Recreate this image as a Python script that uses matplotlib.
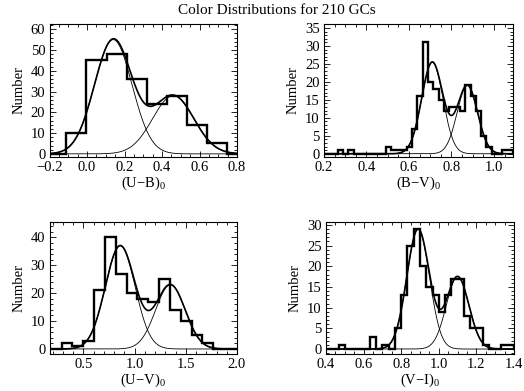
import numpy as np
import matplotlib
matplotlib.use("Agg")
import matplotlib.pyplot as plt
from matplotlib.ticker import MultipleLocator, AutoMinorLocator

plt.rcParams['font.family'] = ['Liberation Serif', 'DejaVu Serif']
plt.rcParams['mathtext.fontset'] = 'custom'
plt.rcParams['mathtext.rm'] = 'Liberation Serif'
plt.rcParams['mathtext.it'] = 'Liberation Serif'

title = "Color Distributions for 210 GCs"

# ---- U-B ----
ub_start, ub_width = -0.11, 0.107
ub_counts = [10, 45, 48, 36, 24, 28, 14, 5]
ub_gauss = [(55, 0.14, 0.10), (28, 0.46, 0.11)]

# ---- B-V ----
bv_start, bv_width = 0.265, 0.025
bv_counts = [1, 0, 1, 0, 0, 0, 0, 0, 0, 2, 1, 1, 1, 2, 7, 16, 31, 20, 18, 15, 12,
             13, 13, 12, 19, 16, 12, 5, 2, 0, 0, 1, 1]
bv_gauss = [(25.5, 0.71, 0.05), (19, 0.875, 0.048)]

# ---- U-V ----
uv_start, uv_width = 0.183, 0.1057
uv_counts = [0, 2, 1, 3, 21, 40, 27, 20, 18, 17, 25, 14, 10, 5, 2]
uv_gauss = [(37, 0.86, 0.145), (23, 1.35, 0.145)]

# ---- V-I ----
vi_start, vi_width = 0.4, 1.0 / 30
vi_counts = [0, 0, 1, 0, 0, 0, 0, 3, 0, 1, 0, 5, 13, 25, 29, 20, 15, 13, 9, 13,
             17, 17, 8, 5, 5, 1, 0, 0, 1, 1]
vi_gauss = [(29, 0.89, 0.06), (17.5, 1.10, 0.06)]

panels = [
    dict(start=ub_start, width=ub_width, counts=ub_counts, gauss=ub_gauss,
         xlim=(-0.2, 0.8), ylim=(-1.5, 62.5), xmaj=0.2, xmin=4, ymaj=10, ymin=5,
         xlabel='(U\u2212B)$_{0}$', rect=[49.5, 24, 237, 157]),
    dict(start=bv_start, width=bv_width, counts=bv_counts, gauss=bv_gauss,
         xlim=(0.2, 1.09), ylim=(-0.9, 36.1), xmaj=0.2, xmin=4, ymaj=5, ymin=5,
         xlabel='(B\u2212V)$_{0}$', rect=[324, 24, 513, 157]),
    dict(start=uv_start, width=uv_width, counts=uv_counts, gauss=uv_gauss,
         xlim=(0.17, 2.0), ylim=(-1.8, 45.5), xmaj=0.5, xmin=5, ymaj=10, ymin=5,
         xlabel='(U\u2212V)$_{0}$', rect=[49.5, 222, 237, 354]),
    dict(start=vi_start, width=vi_width, counts=vi_counts, gauss=vi_gauss,
         xlim=(0.4, 1.4), ylim=(-1.2, 30.7), xmaj=0.2, xmin=4, ymaj=5, ymin=5,
         xlabel='(V\u2212I)$_{0}$', rect=[326, 222, 514, 354]),
]

W, H = 524, 391
fig = plt.figure(figsize=(W / 100, H / 100), dpi=100)

for p in panels:
    x0, y0, x1, y1 = p['rect']
    ax = fig.add_axes([x0 / W, 1 - y1 / H, (x1 - x0) / W, (y1 - y0) / H])
    counts = np.array(p['counts'], dtype=float)
    edges = p['start'] + p['width'] * np.arange(len(counts) + 1)
    xs = np.concatenate([[p['xlim'][0]], edges, [p['xlim'][1]]])
    ys = np.concatenate([[0], counts, [0, 0]])
    ax.step(xs, ys, where='post', color='black', lw=1.7, solid_joinstyle='miter')
    xx = np.linspace(p['xlim'][0], p['xlim'][1], 600)
    total = np.zeros_like(xx)
    for a, mu, s in p['gauss']:
        g = a * np.exp(-(xx - mu) ** 2 / (2 * s ** 2))
        total += g
        ax.plot(xx, g, color='black', lw=0.6)
    ax.plot(xx, total, color='black', lw=1.2)
    ax.set_xlim(*p['xlim'])
    ax.set_ylim(*p['ylim'])
    ax.xaxis.set_major_locator(MultipleLocator(p['xmaj']))
    ax.xaxis.set_minor_locator(AutoMinorLocator(p['xmin']))
    ax.yaxis.set_major_locator(MultipleLocator(p['ymaj']))
    ax.yaxis.set_minor_locator(AutoMinorLocator(p['ymin']))
    ax.tick_params(which='both', direction='in', top=True, right=True,
                   labelsize=10.5, width=0.6, pad=3)
    ax.tick_params(which='major', length=4.5)
    ax.tick_params(which='minor', length=2.2)
    for sp in ax.spines.values():
        sp.set_linewidth(0.8)
    ax.xaxis.set_major_formatter(plt.FuncFormatter(
        lambda v, pos: ('%.1f' % v).replace('-', '\u2212')))
    ax.yaxis.set_major_formatter(plt.FuncFormatter(lambda v, pos: '%d' % round(v)))
    ax.set_xlabel(p['xlabel'], fontsize=10.5, labelpad=0)
    ax.set_ylabel('Number', fontsize=10.5, labelpad=4)

fig.text(277 / W, 1 - 11 / H, title, ha='center', va='center', fontsize=11)
fig.savefig('out.png', dpi=100)
